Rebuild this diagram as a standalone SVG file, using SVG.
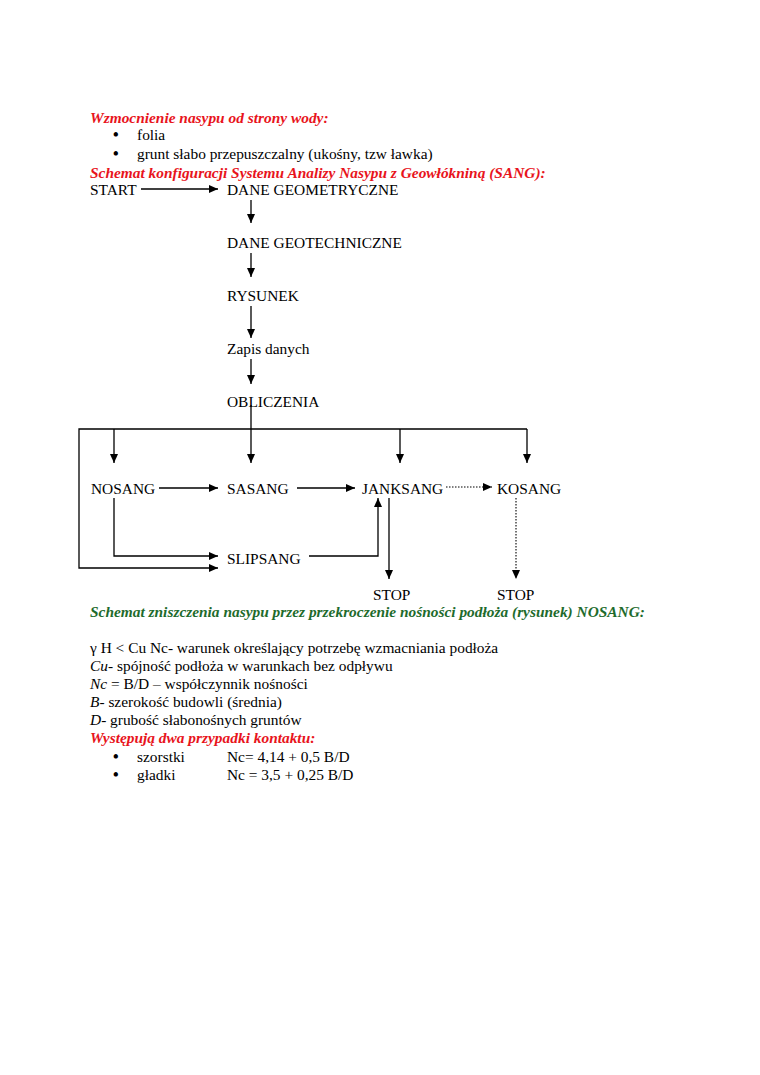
<svg xmlns="http://www.w3.org/2000/svg" width="760" height="1075" viewBox="0 0 760 1075">
<style>
text{font-family:"Liberation Serif","Times New Roman",serif;font-size:15.4px;fill:#000}
.b{font-size:16px;font-weight:bold}
.h{font-weight:bold;font-style:italic;fill:#e8141c}
.g{font-weight:bold;font-style:italic;fill:#1e6b2c}
.i{font-style:italic}
.c{stroke:#000;stroke-width:1.3;fill:none}
.d{stroke:#000;stroke-width:1.1;fill:none;stroke-dasharray:1.5 1.5}
</style>
<defs>
<marker id="a" markerWidth="10" markerHeight="8" refX="9" refY="4" orient="auto" markerUnits="userSpaceOnUse">
<path d="M0,0 L9,4 L0,8 Z" fill="#000"/>
</marker>
</defs>
<rect width="760" height="1075" fill="#fff"/>
<g id="intro">
<text class="h" x="90" y="123">Wzmocnienie nasypu od strony wody:</text>
<text class="b" x="113" y="140">•</text><text x="137" y="140">folia</text>
<text class="b" x="113" y="159">•</text><text x="137" y="159">grunt słabo przepuszczalny (ukośny, tzw ławka)</text>
<text class="h" x="90" y="178">Schemat konfiguracji Systemu Analizy Nasypu z Geowłókniną (SANG):</text>
</g>
<g id="n-start"><text x="90" y="195">START</text></g>
<g id="n-geom"><text x="227" y="195">DANE GEOMETRYCZNE</text></g>
<g id="n-geot"><text x="227" y="248">DANE GEOTECHNICZNE</text></g>
<g id="n-rys"><text x="227" y="301">RYSUNEK</text></g>
<g id="n-zapis"><text x="227" y="354">Zapis danych</text></g>
<g id="n-obl"><text x="227" y="407">OBLICZENIA</text></g>
<g id="n-nosang"><text x="91" y="494">NOSANG</text></g>
<g id="n-sasang"><text x="227" y="494">SASANG</text></g>
<g id="n-janksang"><text x="362" y="494">JANKSANG</text></g>
<g id="n-kosang"><text x="497" y="494">KOSANG</text></g>
<g id="n-slipsang"><text x="227" y="564">SLIPSANG</text></g>
<g id="n-stop1"><text x="373" y="600">STOP</text></g>
<g id="n-stop2"><text x="497" y="600">STOP</text></g>
<g id="connectors">
<path class="c" d="M141,189 H218" marker-end="url(#a)"/>
<path class="c" d="M251,200 V223" marker-end="url(#a)"/>
<path class="c" d="M251,253 V277" marker-end="url(#a)"/>
<path class="c" d="M251,306 V338" marker-end="url(#a)"/>
<path class="c" d="M251,359 V384" marker-end="url(#a)"/>
<path class="c" d="M251,405 V463" marker-end="url(#a)"/>
<path class="c" d="M527,429 H79 V568 H218" marker-end="url(#a)"/>
<path class="c" d="M114,429 V463" marker-end="url(#a)"/>
<path class="c" d="M400,429 V463" marker-end="url(#a)"/>
<path class="c" d="M527,429 V463" marker-end="url(#a)"/>
<path class="c" d="M159,488 H218" marker-end="url(#a)"/>
<path class="c" d="M297,488 H355" marker-end="url(#a)"/>
<path class="d" d="M446,487 H492" marker-end="url(#a)"/>
<path class="c" d="M114,498 V556 H218" marker-end="url(#a)"/>
<path class="c" d="M309,556 H378 V498" marker-end="url(#a)"/>
<path class="c" d="M389,498 V579" marker-end="url(#a)"/>
<path class="d" d="M516,498 V579" marker-end="url(#a)"/>
</g>
<g id="notes">
<text class="g" x="90" y="617">Schemat zniszczenia nasypu przez przekroczenie nośności podłoża (rysunek) NOSANG:</text>
<text x="90" y="653">γ H &lt; Cu Nc- warunek określający potrzebę wzmacniania podłoża</text>
<text x="90" y="671"><tspan class="i">Cu</tspan>- spójność podłoża w warunkach bez odpływu</text>
<text x="90" y="689"><tspan class="i">Nc</tspan> = B/D – współczynnik nośności</text>
<text x="90" y="707"><tspan class="i">B</tspan>- szerokość budowli (średnia)</text>
<text x="90" y="725"><tspan class="i">D</tspan>- grubość słabonośnych gruntów</text>
<text class="h" x="90" y="743">Występują dwa przypadki kontaktu:</text>
<text class="b" x="113" y="762">•</text><text x="137" y="762">szorstki</text><text x="227" y="762">Nc= 4,14 + 0,5 B/D</text>
<text class="b" x="113" y="780">•</text><text x="137" y="780">gładki</text><text x="227" y="780">Nc = 3,5 + 0,25 B/D</text>
</g>
</svg>
